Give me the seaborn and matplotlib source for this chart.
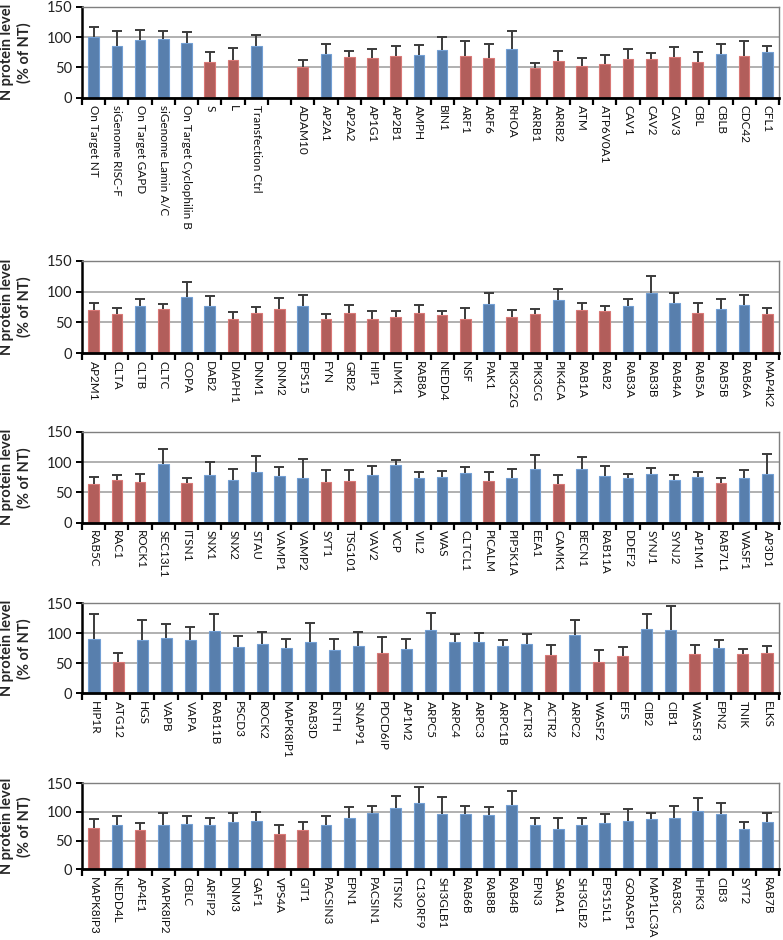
import numpy as np
import pandas as pd
import matplotlib
matplotlib.use("Agg")
import matplotlib.pyplot as plt
import seaborn as sns

# ---------------- data ----------------
p1_genes = ["On Target NT", "siGenome RISC-F", "On Target GAPD", "siGenome Lamin A/C",
            "On Target Cyclophilin B", "S", "L", "Transfection Ctrl", " ",
            "ADAM10", "AP2A1", "AP2A2", "AP1G1", "AP2B1", "AMPH", "BIN1", "ARF1", "ARF6",
            "RHOA", "ARRB1", "ARRB2", "ATM", "ATP6V0A1", "CAV1", "CAV2", "CAV3", "CBL",
            "CBLB", "CDC42", "CFL1"]
p1_values = [100, 86, 96, 97, 91, 59, 62, 85, np.nan,
             50, 72, 67, 66, 69, 71, 79, 69, 65, 80, 49, 61, 53, 56, 64, 64, 67, 59,
             72, 69, 76]
p1_errors = [17, 25, 16, 14, 17, 17, 21, 19, np.nan,
             12, 17, 11, 15, 17, 16, 21, 24, 23, 30, 9, 17, 12, 14, 16, 10, 17, 16,
             16, 25, 10]
p1_groups = list("BBBBBRRBB" "RBRRRBBRRBRRRRRRRRBRB")

p2_genes = ["AP2M1", "CLTA", "CLTB", "CLTC", "COPA", "DAB2", "DIAPH1", "DNM1", "DNM2",
            "EPS15", "FYN", "GRB2", "HIP1", "LIMK1", "RAB8A", "NEDD4", "NSF", "PAK1",
            "PIK3C2G", "PIK3CG", "PIK4CA", "RAB1A", "RAB2", "RAB3A", "RAB3B", "RAB4A",
            "RAB5A", "RAB5B", "RAB6A", "MAP4K2"]
p2_values = [70, 63, 77, 71, 91, 76, 56, 65, 71, 76, 55, 65, 56, 58, 65, 62, 55, 80,
             58, 64, 86, 70, 69, 76, 98, 81, 65, 72, 79, 63]
p2_errors = [11, 10, 11, 9, 25, 17, 11, 10, 18, 19, 8, 13, 12, 10, 13, 7, 18, 18,
             12, 8, 18, 12, 7, 12, 27, 16, 17, 16, 15, 10]
p2_groups = list("RRBRBBRRRBRRRRRRRBRRBRRBBBRBBR")

p3_genes = ["RAB5C", "RAC1", "ROCK1", "SEC13L1", "ITSN1", "SNX1", "SNX2", "STAU", "VAMP1",
            "VAMP2", "SYT1", "TSG101", "VAV2", "VCP", "VIL2", "WAS", "CLTCL1", "PICALM",
            "PIP5K1A", "EEA1", "CAMK1", "BECN1", "RAB11A", "DDEF2", "SYNJ1", "SYNJ2",
            "AP1M1", "RAB7L1", "WASF1", "AP3D1"]
p3_values = [63, 70, 67, 97, 65, 79, 71, 83, 77, 74, 67, 68, 78, 95, 74, 75, 82, 68,
             74, 88, 63, 88, 77, 74, 80, 70, 76, 66, 74, 81]
p3_errors = [13, 9, 14, 24, 9, 21, 18, 27, 14, 31, 20, 19, 16, 9, 9, 10, 10, 15,
             15, 24, 15, 20, 16, 6, 10, 9, 8, 7, 13, 32]
p3_groups = list("RRRBRBBBBBRRBBBBBRBBRBBBBBBRBB")

p4_genes = ["HIP1R", "ATG12", "HGS", "VAPB", "VAPA", "RAB11B", "PSCD3", "ROCK2", "MAPK8IP1",
            "RAB3D", "ENTH", "SNAP91", "PDCD6IP", "AP1M2", "ARPC5", "ARPC4", "ARPC3",
            "ARPC1B", "ACTR3", "ACTR2", "ARPC2", "WASF2", "EFS", "CIB2", "CIB1", "WASF3",
            "EPN2", "TNIK", "ELKS"]
p4_values = [91, 52, 89, 92, 89, 104, 77, 83, 76, 85, 73, 79, 67, 74, 105, 86, 86,
             79, 82, 64, 97, 53, 63, 108, 106, 65, 76, 65, 68]
p4_errors = [41, 16, 33, 23, 22, 28, 18, 19, 14, 33, 18, 23, 27, 17, 29, 13, 14,
             10, 17, 16, 25, 19, 15, 24, 39, 16, 13, 9, 11]
p4_groups = list("BRBBBBBBBBBBRBBBBBBRBRRBBRBRR")

p5_genes = ["MAPK8IP3", "NEDD4L", "AP4E1", "MAPK8IP2", "CBLC", "ARFIP2", "DNM3", "GAF1",
            "VPS4A", "GIT1", "PACSIN3", "EPN1", "PACSIN1", "ITSN2", "C13ORF9", "SH3GLB1",
            "RAB6B", "RAB8B", "RAB4B", "EPN3", "SARA1", "SH3GLB2", "EPS15L1", "GORASP1",
            "MAP1LC3A", "RAB3C", "IHPK3", "CIB3", "SYT2", "RAB7B"]
p5_values = [72, 78, 69, 77, 79, 77, 83, 84, 62, 69, 77, 90, 99, 107, 115, 97, 97, 94,
             112, 77, 71, 78, 81, 84, 87, 90, 102, 97, 70, 82]
p5_errors = [16, 15, 12, 22, 14, 12, 15, 16, 15, 13, 16, 18, 12, 21, 29, 29, 14, 15,
             24, 12, 18, 12, 15, 21, 12, 21, 22, 18, 13, 16]
p5_groups = list("RBRBBBBBRRBBBBBBBBBBBBBBBBBBBB")

y_ticks = [0, 50, 100, 150]
y_label = "N protein level\n(% of NT)"

panels = [
    (p1_genes, p1_values, p1_errors, p1_groups),
    (p2_genes, p2_values, p2_errors, p2_groups),
    (p3_genes, p3_values, p3_errors, p3_groups),
    (p4_genes, p4_values, p4_errors, p4_groups),
    (p5_genes, p5_values, p5_errors, p5_groups),
]

# ---------------- style ----------------
sns.set_style("white")
plt.rcParams["font.family"] = ["Lato", "DejaVu Sans"]
NARROW = ["Liberation Sans Narrow", "Lato", "DejaVu Sans"]

BLUE = "#4a7ebb"
RED = "#c0504d"
palette = {"B": BLUE, "R": RED}

W, H = 783, 940
fig = plt.figure(figsize=(W / 100, H / 100), dpi=100)

# axes pixel extents (top, bottom)
axes_px = [(7, 97.7), (260.7, 353.3), (431.7, 522.7), (603.3, 693.3), (783.3, 869.3)]
left_px, right_px = 82, 779

for (genes, vals, errs, groups), (top, bot) in zip(panels, axes_px):
    ax = fig.add_axes([left_px / W, 1 - bot / H, (right_px - left_px) / W, (bot - top) / H])
    df = pd.DataFrame({"gene": genes, "value": vals, "err": errs, "group": groups})
    n = len(genes)
    sns.barplot(data=df, x="gene", y="value", hue="group", order=genes,
                palette=palette, dodge=False, width=0.46, errorbar=None,
                legend=False, ax=ax, edgecolor="none", zorder=2)
    # lighter edges like original
    for p in ax.patches:
        fc = p.get_facecolor()
        p.set_edgecolor(tuple(min(1, c * 1.15 + 0.05) for c in fc[:3]))
        p.set_linewidth(0.8)
    xs = np.arange(n)
    _, caps, _ = ax.errorbar(xs, df["value"], yerr=[np.zeros(n), df["err"]], fmt="none",
                             ecolor="#3b3b3b", elinewidth=1.4, capsize=3.5,
                             capthick=1.4, zorder=3)
    caps[0].set_visible(False)

    ax.set_xlim(-0.5, n - 0.5)
    ax.set_ylim(0, 150)
    ax.set_yticks(y_ticks)
    ax.set_yticklabels([str(t) for t in y_ticks], fontsize=10.5, color="#222222")
    ax.set_xticks(xs)
    ax.set_xticklabels(genes, rotation=270, fontsize=8.5, color="#111111", family=NARROW)
    ax.set_xticks(np.arange(-0.5, n, 1.0), minor=True)
    ax.tick_params(axis="x", which="major", length=0, pad=5.5)
    ax.tick_params(axis="x", which="minor", length=5, width=1.6, direction="out",
                   color="black", bottom=True)
    ax.tick_params(axis="y", which="major", length=4, width=1.4, direction="out",
                   color="black", left=True, pad=3)
    ax.set_xlabel("")
    ax.set_ylabel(y_label, fontsize=10.5, fontweight="bold", linespacing=1.3)
    ax.yaxis.set_label_coords(-0.072, 0.5)
    ax.yaxis.grid(True, color="#a3a3a3", linewidth=1.2, zorder=0)
    ax.set_axisbelow(True)
    for s in ["top", "right"]:
        ax.spines[s].set_visible(True)
        ax.spines[s].set_color("#7f7f7f")
        ax.spines[s].set_linewidth(1.0)
    ax.spines["left"].set_color("black")
    ax.spines["left"].set_linewidth(1.8)
    ax.spines["bottom"].set_color("black")
    ax.spines["bottom"].set_linewidth(2.0)

fig.savefig("out.png", dpi=100)
